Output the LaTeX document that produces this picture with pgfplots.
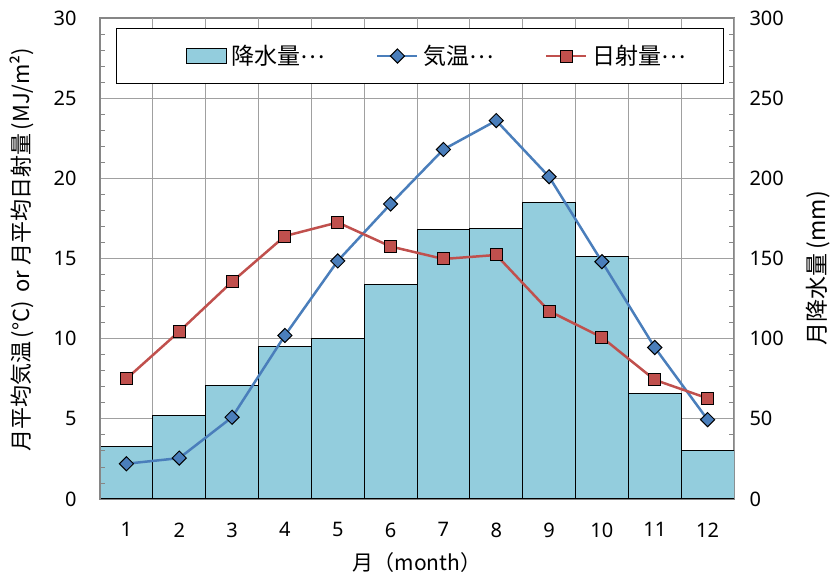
\documentclass[border=0pt]{standalone}
\usepackage{fontspec}
\setmainfont{Noto Sans CJK JP}
\newfontfamily\numfont{Noto Sans}
\usepackage{pgfplots}
\pgfplotsset{compat=1.18}

\definecolor{barfill}{RGB}{147,205,221}
\definecolor{tempblue}{RGB}{74,126,187}
\definecolor{solarred}{RGB}{192,80,77}
\definecolor{framegray}{RGB}{134,134,134}
\definecolor{gridgray}{RGB}{160,160,160}

\newcommand{\middots}{\raisebox{0.3em}{…}}

\pgfplotsset{
  base/.style={
    width=634pt, height=481pt, scale only axis,
    xmin=0.5, xmax=12.5,
    tick align=inside,
    major tick length=0pt, minor tick length=5pt,
    every tick/.style={framegray, line width=0.8pt},
    axis line style={framegray, line width=1.2pt},
    tick label style={font=\numfont\fontsize{20}{20}\selectfont},
    /pgf/number format/assume math mode=true,
  },
  linelegend/.style={legend image code/.code={
    \draw[##1, mark repeat=2, mark phase=2] plot coordinates {(0pt,0pt) (20pt,0pt) (40pt,0pt)};}},
  barlegend/.style={legend image code/.code={
    \path[draw=none] (-70pt,0pt) -- (0pt,0pt);
    \draw[fill=barfill, draw=black, line width=1pt] (0pt,-7.5pt) rectangle (40pt,7.5pt);}},
}

\begin{document}
\begin{tikzpicture}
\path[use as bounding box] (-100pt,-78pt) rectangle (734pt,499pt);

% precipitation (mm), right axis, with the grid
\begin{axis}[base,
  ymin=0, ymax=300,
  ytick={0,50,...,300}, minor y tick num=4,
  ytick pos=right, yticklabel pos=right,
  yticklabel style={xshift=12pt, anchor=west},
  xtick={1,...,12}, xtick pos=bottom,
  xticklabel style={yshift=-20pt},
  extra x ticks={0.5,1.5,...,12.5}, extra x tick labels={},
  extra x tick style={grid=major},
  ymajorgrids,
  grid style={gridgray, line width=1pt},
  ylabel={月降水量\,(mm)},
  ylabel style={font=\fontsize{23}{23}\selectfont,
    at={(axis description cs:1.1325,0.48)}, anchor=center},
  xlabel={月（month）},
  xlabel style={font=\fontsize{21}{21}\selectfont,
    at={(axis description cs:0.5,-0.133)}, anchor=center},
]
\addplot[ybar, bar width=1, fill=barfill, draw=black, line width=1pt] coordinates {
  (1,32.5) (2,52) (3,71) (4,95) (5,100) (6,134)
  (7,168) (8,169) (9,185) (10,151) (11,66) (12,30)
};
\end{axis}

% temperature and solar radiation, left axis
\begin{axis}[base,
  ymin=0, ymax=30,
  ytick={0,5,...,30}, minor y tick num=4,
  axis y line*=left, axis x line=none,
  yticklabel style={xshift=-20pt},
  ylabel={月平均気温\,(°C)\, or 月平均日射量\,(MJ/m²)},
  ylabel style={font=\fontsize{22}{22}\selectfont,
    at={(axis description cs:-0.123,0.518)}, anchor=center},
  legend style={at={(0.025,0.979)}, anchor=north west,
    draw=black, line width=1pt, inner xsep=0pt, inner ysep=15pt,
    font=\fontsize{23}{23}\selectfont, legend columns=3,
    /tikz/every odd column/.append style={column sep=3pt},
    /tikz/every even column/.append style={column sep=49pt}},
  legend cell align=left,
]
\addlegendimage{barlegend}
\addlegendentry{降水量\middots}
\addplot[tempblue, line width=2.5pt,
  mark=square*, mark size=5pt,
  mark options={fill=tempblue, draw=black, line width=1pt, rotate=45},
  linelegend]
coordinates {
  (1,2.2) (2,2.55) (3,5.1) (4,10.2) (5,14.85) (6,18.4)
  (7,21.8) (8,23.6) (9,20.1) (10,14.8) (11,9.45) (12,4.95)
};
\addlegendentry{気温\middots}
\addplot[solarred, line width=2.5pt,
  mark=square*, mark size=6pt,
  mark options={fill=solarred, draw=black, line width=1pt},
  linelegend]
coordinates {
  (1,7.5) (2,10.45) (3,13.55) (4,16.4) (5,17.25) (6,15.75)
  (7,14.97) (8,15.22) (9,11.72) (10,10.08) (11,7.43) (12,6.28)
};
\addlegendentry{日射量\middots\hspace*{36pt}}
\end{axis}
\end{tikzpicture}
\end{document}
